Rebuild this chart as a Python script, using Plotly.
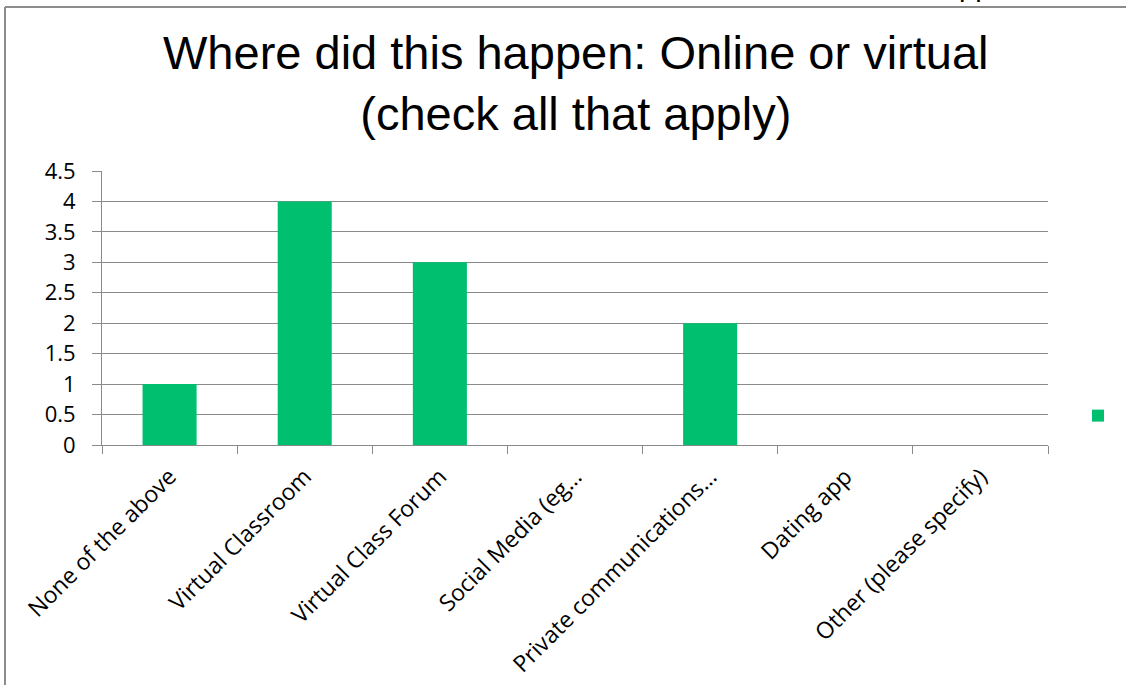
import plotly.graph_objects as go

# Survey responses: where the incident happened (online / virtual settings)
categories = [
    "None of the above",
    "Virtual Classroom",
    "Virtual Class Forum",
    "Social Media (eg…",
    "Private communications…",
    "Dating app",
    "Other (please specify)",
]
counts = [1, 4, 3, 0, 2, 0, 0]

W, H = 1126, 685
ML, MR, MT, MB = 102, 78, 171, 240
PW, PH = W - ML - MR, H - MT - MB

GRID = "#8a8a8a"
BAR = "#00bf6f"


def px_x(px):
    return (px - ML) / PW


def px_y(py):
    return (H - MB - py) / PH


fig = go.Figure(
    go.Bar(
        x=categories,
        y=counts,
        name="",
        marker=dict(color=BAR, line=dict(width=0)),
        showlegend=True,
    )
)

fig.update_layout(
    width=W,
    height=H,
    margin=dict(l=ML, r=MR, t=MT, b=MB, autoexpand=False),
    paper_bgcolor="white",
    plot_bgcolor="white",
    bargap=0.6,
    font=dict(family="Open Sans", color="black"),
    legend=dict(
        x=px_x(1078),
        y=px_y(416),
        xanchor="left",
        yanchor="middle",
        bgcolor="rgba(0,0,0,0)",
        font=dict(size=14),
    ),
    shapes=[
        # frame around the chart area (left and top edges)
        dict(type="line", xref="paper", yref="paper",
             x0=px_x(5), x1=px_x(W + 5), y0=px_y(7), y1=px_y(7),
             line=dict(color="#8c8c8c", width=2)),
        dict(type="line", xref="paper", yref="paper",
             x0=px_x(5), x1=px_x(5), y0=px_y(7), y1=px_y(H + 5),
             line=dict(color="#8c8c8c", width=2)),
    ],
    annotations=[
        # chart title
        dict(text="Where did this happen: Online or virtual<br>(check all that apply)",
             xref="paper", yref="paper", x=px_x(576), y=px_y(24),
             xanchor="center", yanchor="top", showarrow=False, align="center",
             font=dict(family="Liberation Sans, Arial", size=47, color="black")),
        # tail of a heading that sits above the chart frame
        dict(text="pp", xref="paper", yref="paper", x=px_x(975), y=px_y(4),
             xanchor="center", yanchor="bottom", showarrow=False,
             font=dict(family="Liberation Sans, Arial", size=29, color="black")),
    ],
)

fig.update_yaxes(
    range=[0, 4.5],
    dtick=0.5,
    showgrid=True,
    gridcolor=GRID,
    gridwidth=1,
    zeroline=False,
    showline=True,
    linecolor=GRID,
    linewidth=1,
    ticks="outside",
    ticklen=9,
    tickcolor=GRID,
    tickfont=dict(family="Open Sans", size=22, color="black"),
    ticklabelstandoff=12,
)

fig.update_xaxes(
    type="category",
    showgrid=False,
    showline=True,
    linecolor=GRID,
    linewidth=1,
    ticks="outside",
    tickson="boundaries",
    ticklen=8,
    tickcolor=GRID,
    tickangle=-45,
    tickfont=dict(family="Open Sans", size=23, color="black"),
    ticklabelstandoff=8,
)

fig.write_html("out.html")
